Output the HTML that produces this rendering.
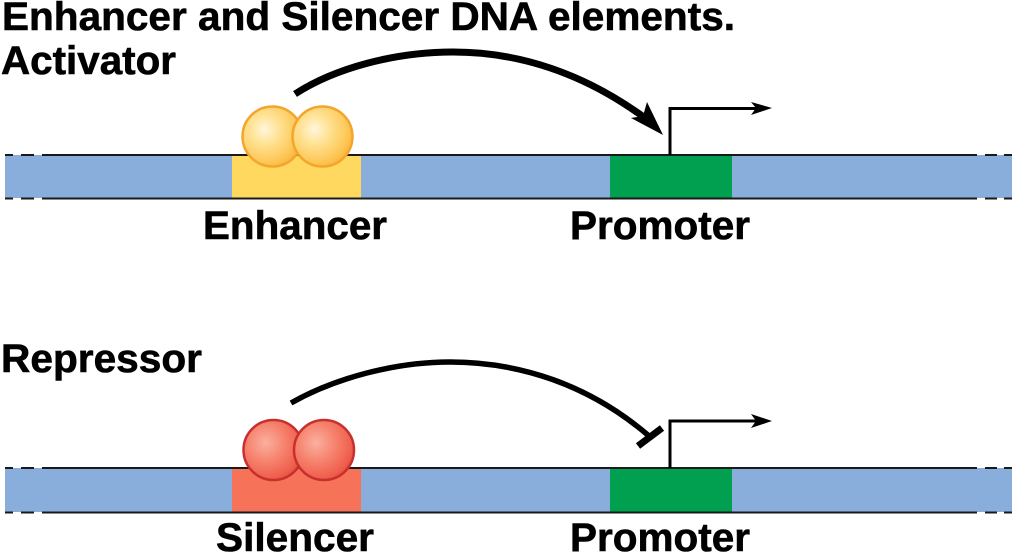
<!DOCTYPE html>
<html><head><meta charset="utf-8"><style>
html,body{margin:0;padding:0;background:#fff}
svg{display:block}
text{font-family:"Liberation Sans",Arial,sans-serif;font-weight:700;font-size:40px;fill:#000;stroke:#000;stroke-width:.6px}
</style></head><body>
<svg width="1024" height="554" viewBox="0 0 1024 554" xmlns="http://www.w3.org/2000/svg">
<defs>
<radialGradient id="y" cx="0.37" cy="0.38" r="0.7"><stop offset="0" stop-color="#fff6dc"/><stop offset="0.35" stop-color="#ffe294"/><stop offset="0.8" stop-color="#fdc654"/><stop offset="1" stop-color="#f8b23a"/></radialGradient>
<radialGradient id="r" cx="0.37" cy="0.38" r="0.7"><stop offset="0" stop-color="#fab0a0"/><stop offset="0.45" stop-color="#f6836e"/><stop offset="0.85" stop-color="#ef5f4c"/><stop offset="1" stop-color="#e04c40"/></radialGradient>
<g id="edge">
<path d="M5 0H13M21 0H34M42 0H977M985 0H997M1004 0H1012" stroke="#1a1a1a" stroke-width="2" fill="none"/>
</g>
</defs>

<text x="2" y="30" textLength="733" lengthAdjust="spacingAndGlyphs">Enhancer and Silencer DNA elements.</text>
<text x="1" y="74" textLength="175" lengthAdjust="spacingAndGlyphs">Activator</text>

<!-- top strand -->
<rect x="5" y="155" width="1007" height="43" fill="#8aaedc"/>
<rect x="232" y="155" width="129" height="43" fill="#ffd85f"/>
<rect x="610" y="155" width="122" height="43" fill="#00a050"/>
<use href="#edge" y="155"/>
<use href="#edge" y="198.5"/>
<circle cx="272.500" cy="136.500" r="30" fill="url(#y)" stroke="#f2a62c" stroke-width="2.500"/>
<circle cx="322.500" cy="136.500" r="30" fill="url(#y)" stroke="#f2a62c" stroke-width="2.500"/>

<path d="M295 94C335 68 395 52 453 52C520 52 585 74 645 118" fill="none" stroke="#000" stroke-width="7"/>
<polygon points="663,135 631,118 643,116 647,102" fill="#000"/>
<path d="M670 155V108.500H757" fill="none" stroke="#000" stroke-width="3"/>
<polygon points="772,108 751,102 756,108 751,115" fill="#000"/>

<text x="203" y="239" textLength="184" lengthAdjust="spacingAndGlyphs">Enhancer</text>
<text x="570" y="239" textLength="180" lengthAdjust="spacingAndGlyphs">Promoter</text>

<text x="1" y="372" textLength="201" lengthAdjust="spacingAndGlyphs">Repressor</text>

<!-- bottom strand -->
<rect x="5" y="468" width="1007" height="44" fill="#8aaedc"/>
<rect x="232" y="468" width="129" height="44" fill="#f67359"/>
<rect x="610" y="468" width="122" height="44" fill="#00a050"/>
<use href="#edge" y="468"/>
<use href="#edge" y="512.500"/>
<circle cx="273.500" cy="450" r="30" fill="url(#r)" stroke="#c8302e" stroke-width="2.500"/>
<circle cx="324" cy="450" r="30" fill="url(#r)" stroke="#c8302e" stroke-width="2.500"/>

<path d="M291 403C335 378 395 362 450 362C520 362 590 385 649 436" fill="none" stroke="#000" stroke-width="5.500"/>
<path d="M638 446L662 428" fill="none" stroke="#000" stroke-width="7"/>
<path d="M670 468V421H757" fill="none" stroke="#000" stroke-width="3"/>
<polygon points="772,421 751,414 756,421 751,428" fill="#000"/>

<text x="216" y="551" textLength="158" lengthAdjust="spacingAndGlyphs">Silencer</text>
<text x="570" y="551" textLength="180" lengthAdjust="spacingAndGlyphs">Promoter</text>
</svg>
</body></html>
